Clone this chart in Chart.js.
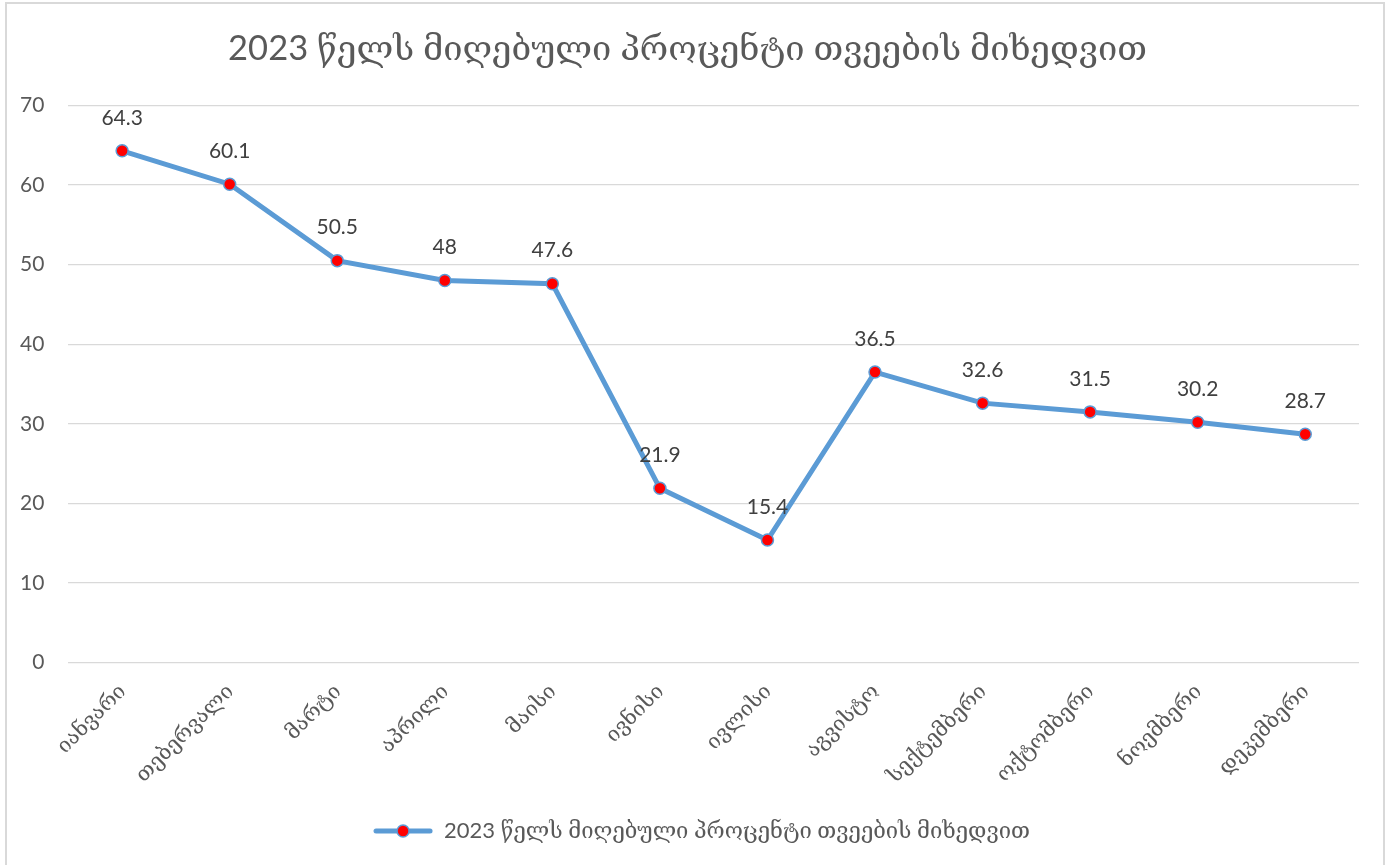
<!DOCTYPE html>
<html>
<head>
<meta charset="utf-8">
<script src="https://cdn.jsdelivr.net/npm/chart.js@4.4.1/dist/chart.umd.min.js"></script>
<style>
  html, body { margin: 0; padding: 0; background: #ffffff; }
  body { width: 1397px; height: 865px; overflow: hidden; position: relative; }
  #frame { position: absolute; left: 5px; top: 2px; width: 1380px; height: 880px; border: 2px solid #d9d9d9; box-sizing: border-box; }
  #wrap { position: absolute; left: 0; top: 0; width: 1397px; height: 865px; }
</style>
</head>
<body>
<div id="frame"></div>
<div id="wrap"><canvas id="c" width="1397" height="865"></canvas></div>
<script>
const titleText = '2023 წელს მიღებული პროცენტი თვეების მიხედვით';
const seriesName = '2023 წელს მიღებული პროცენტი თვეების მიხედვით';
const months = ['იანვარი','თებერვალი','მარტი','აპრილი','მაისი','ივნისი','ივლისი','აგვისტო','სექტემბერი','ოქტომბერი','ნოემბერი','დეკემბერი'];
const values = [64.3, 60.1, 50.5, 48, 47.6, 21.9, 15.4, 36.5, 32.6, 31.5, 30.2, 28.7];
const yTicks = [0, 10, 20, 30, 40, 50, 60, 70];

const FONT = "Lato, 'DejaVu Serif', 'DejaVu Sans', sans-serif";
const LINE = '#5B9BD5';

// legend marker: line with a dot
const mk = document.createElement('canvas');
mk.width = 60; mk.height = 16;
(function(){
  const g = mk.getContext('2d');
  g.strokeStyle = LINE; g.lineWidth = 5; g.lineCap = 'round';
  g.beginPath(); g.moveTo(3, 8); g.lineTo(57, 8); g.stroke();
  g.beginPath(); g.arc(30, 8, 6, 0, Math.PI * 2);
  g.fillStyle = '#ff0000'; g.fill();
  g.lineWidth = 1.5; g.strokeStyle = LINE; g.stroke();
})();

const dataLabels = {
  id: 'dataLabels',
  afterDatasetsDraw(chart) {
    const ctx = chart.ctx;
    const meta = chart.getDatasetMeta(0);
    ctx.save();
    ctx.font = "21px " + FONT;
    ctx.fillStyle = '#404040';
    ctx.textAlign = 'center';
    ctx.textBaseline = 'middle';
    meta.data.forEach((pt, i) => {
      ctx.fillText(String(chart.data.datasets[0].data[i]), pt.x, pt.y - 33);
    });
    ctx.restore();
  }
};

// center legend and title on the whole frame rather than the padded area
const boxShift = {
  id: 'boxShift',
  afterLayout(chart) {
    if (chart.legend) { chart.legend.left += 24; chart.legend.right += 24; }
    if (chart.titleBlock) { chart.titleBlock.left += 10; chart.titleBlock.right += 10; }
  }
};

new Chart(document.getElementById('c'), {
  type: 'line',
  data: {
    labels: months,
    datasets: [{
      label: seriesName,
      data: values,
      borderColor: LINE,
      borderWidth: 5,
      tension: 0,
      pointRadius: 6,
      pointHoverRadius: 6,
      pointBackgroundColor: '#ff0000',
      pointBorderColor: LINE,
      pointBorderWidth: 1.5,
      pointStyle: 'circle',
      fill: false
    }]
  },
  options: {
    responsive: false,
    animation: false,
    devicePixelRatio: 1,
    layout: { padding: { left: -4, right: 38, top: 10, bottom: 13 } },
    plugins: {
      title: {
        display: true,
        text: titleText,
        color: '#595959',
        font: { family: FONT, size: 34.5, weight: 'normal' },
        padding: { top: 18, bottom: 36 }
      },
      legend: {
        display: true,
        position: 'bottom',
        labels: {
          color: '#595959',
          font: { family: FONT, size: 22 },
          usePointStyle: true,
          pointStyleWidth: 60,
          padding: 16,
          generateLabels(chart) {
            return [{
              text: seriesName,
              pointStyle: mk,
              fillStyle: LINE,
              strokeStyle: LINE,
              lineWidth: 0,
              hidden: false,
              datasetIndex: 0,
              fontColor: '#595959'
            }];
          }
        }
      },
      tooltip: { enabled: false }
    },
    scales: {
      x: {
        type: 'category',
        offset: true,
        grid: { display: false, drawTicks: false },
        border: { display: false },
        ticks: {
          color: '#595959',
          font: { family: FONT, size: 21 },
          minRotation: 45,
          maxRotation: 45,
          padding: 16,
          autoSkip: false
        }
      },
      y: {
        min: 0,
        max: 70,
        afterBuildTicks(axis) { axis.ticks = yTicks.map(v => ({ value: v })); },
        grid: { color: '#d9d9d9', lineWidth: 1.3, drawTicks: false },
        border: { display: false },
        ticks: {
          color: '#595959',
          font: { family: FONT, size: 21 },
          padding: 24
        }
      }
    }
  },
  plugins: [dataLabels, boxShift]
});
</script>
</body>
</html>
